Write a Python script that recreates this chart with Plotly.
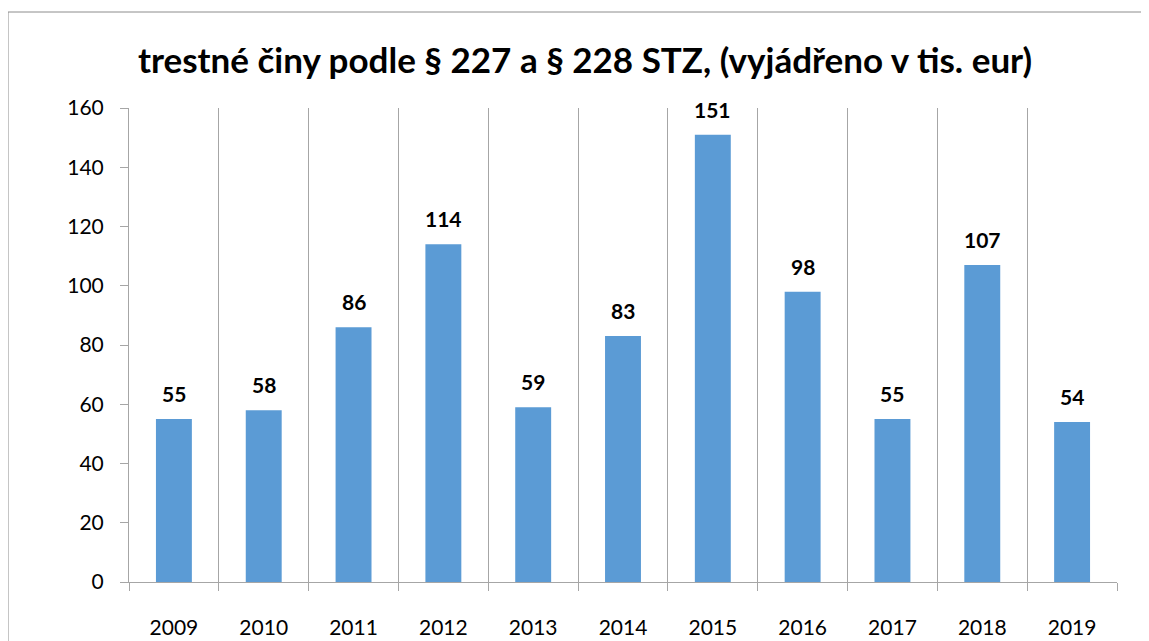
import plotly.graph_objects as go

years = ["2009", "2010", "2011", "2012", "2013", "2014", "2015", "2016", "2017", "2018", "2019"]
values = [55, 58, 86, 114, 59, 83, 151, 98, 55, 107, 54]
y_ticks = [0, 20, 40, 60, 80, 100, 120, 140, 160]

title_text = "trestné činy podle § 227 a § 228 STZ, (vyjádřeno v tis. eur)"

FONT = "Lato, Carlito, Calibri, sans-serif"
W, H = 1149, 641
OFF = 8  # page body margin offset
# target plot area in page pixels: x 129..1117, y 108..582
ML = 129 - OFF
MT = 108 - OFF
MR = (W + OFF) - 1117
MB = (H + OFF) - 582
pw = W - ML - MR
ph = H - MT - MB

fig = go.Figure()
fig.add_trace(go.Bar(
    x=years, y=values,
    marker=dict(color="#5B9BD5", line=dict(width=0)),
    hoverinfo="x+y",
))

# value labels at category index positions
for i, v in enumerate(values):
    fig.add_annotation(
        x=i, y=v, text=f"<b>{v}</b>", showarrow=False,
        xref="x", yref="y",
        yanchor="bottom", yshift=11,
        font=dict(family=FONT, size=21, color="#000000"),
    )

def px_x(page_px):
    return (page_px - OFF - ML) / pw

def px_y(page_px):
    return (H - MB - (page_px - OFF)) / ph

grey = "#8C8C8C"
fig.add_shape(type="line", xref="paper", yref="paper",
              x0=px_x(8), y0=px_y(12), x1=px_x(W + 20), y1=px_y(12),
              line=dict(color=grey, width=1))
fig.add_shape(type="line", xref="paper", yref="paper",
              x0=px_x(8), y0=px_y(12), x1=px_x(8), y1=px_y(H + 20),
              line=dict(color=grey, width=1))

fig.update_layout(
    width=W, height=H,
    margin=dict(l=ML, r=MR, t=MT, b=MB, autoexpand=False),
    paper_bgcolor="white", plot_bgcolor="white",
    bargap=0.6,
    showlegend=False,
    title=dict(text=f"<b>{title_text}</b>", x=(585 - OFF) / W, xanchor="center",
               y=1 - (61 - OFF) / H, yanchor="middle",
               font=dict(family=FONT, size=35, color="#000000")),
    font=dict(family=FONT, size=21, color="#000000"),
)
fig.update_xaxes(
    type="category", tickson="boundaries",
    range=[-0.5, len(years) - 0.5],
    showgrid=True, gridcolor="#A6A6A6", gridwidth=1,
    showline=True, linecolor="#A6A6A6", linewidth=1,
    ticks="outside", ticklen=8, tickcolor="#A6A6A6",
    ticklabelstandoff=27, tickangle=0,
    tickfont=dict(family=FONT, size=21, color="#000000"),
)
fig.update_yaxes(
    range=[0, 160], tickvals=y_ticks,
    showgrid=False, zeroline=False,
    showline=True, linecolor="#A6A6A6", linewidth=1,
    ticks="outside", ticklen=8, tickcolor="#A6A6A6",
    ticklabelstandoff=12,
    tickfont=dict(family=FONT, size=21, color="#000000"),
)

fig.write_html("out.html")
